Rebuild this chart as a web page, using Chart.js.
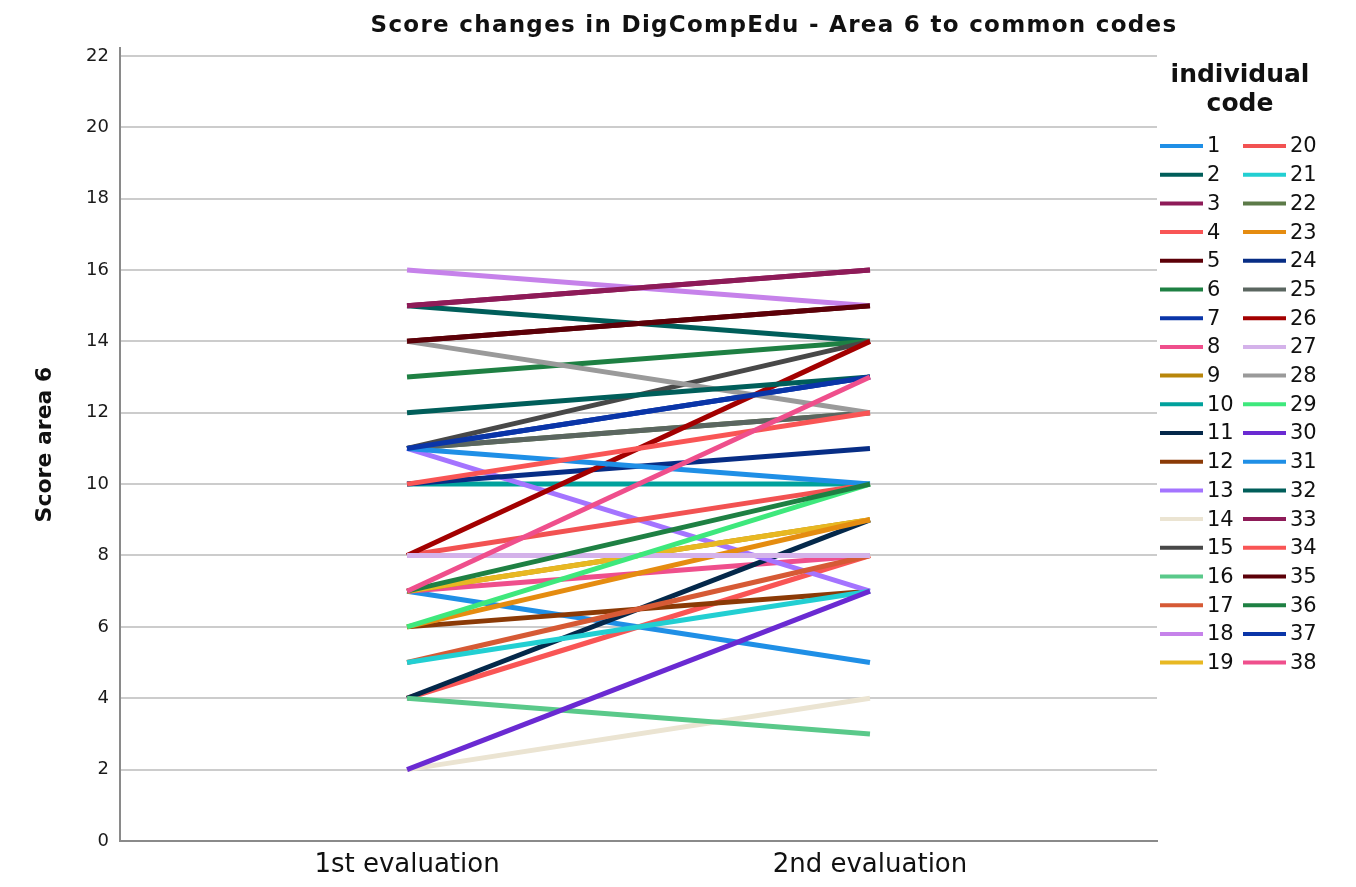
<!DOCTYPE html>
<html>
<head>
<meta charset="utf-8">
<script src="https://cdn.jsdelivr.net/npm/chart.js@4"></script>
<style>
  html, body { margin: 0; padding: 0; background: #fff; }
  #wrap { width: 1356px; height: 887px; }
</style>
</head>
<body>
<div id="wrap"><canvas id="chart"></canvas></div>
<script>
const codes = Array.from({ length: 38 }, (_, i) => String(i + 1))
const evaluations = ['1st evaluation', '2nd evaluation']
const firstEval = [7, 15, 15, 4, 14, 13, 11, 7, 7, 10, 4, 6, 11, 2, 11, 4, 5, 16, 7, 8,
  5, 11, 6, 10, 11, 8, 8, 14, 6, 2, 11, 12, 15, 10, 14, 7, 11, 7]
const secondEval = [5, 14, 16, 8, 15, 14, 13, 8, 9, 10, 9, 7, 7, 4, 14, 3, 8, 15, 9, 10,
  7, 12, 9, 11, 12, 14, 8, 12, 10, 7, 10, 13, 16, 12, 15, 10, 13, 13]
const yTicks = [0, 2, 4, 6, 8, 10, 12, 14, 16, 18, 20, 22]

const palette = [
  '#1f8fe6', '#005e5a', '#8e1b58', '#f95555', '#5c0008', '#1e8043', '#0a35a8', '#ef4f8c',
  '#b8860b', '#00a19c', '#04284a', '#8b3a06', '#a474ff', '#ebe4d2', '#484848', '#5ac98a',
  '#d65a35', '#c682ea', '#e8b822', '#f25252', '#22cfd2', '#5c7a48', '#e58c10', '#072d85',
  '#5b6660', '#a30000', '#d4b2ea', '#9a9a9a', '#3ee87c', '#6a2ad2', '#1f8fe6', '#005e5a',
  '#8e1b58', '#f95555', '#5c0008', '#1e8043', '#0a35a8', '#ef4f8c'
]

const datasets = codes.map((code, i) => ({
  label: code,
  data: [{ x: 0, y: firstEval[i] }, { x: 1, y: secondEval[i] }],
  borderColor: palette[i],
  backgroundColor: palette[i],
  borderWidth: 5,
  pointRadius: 0,
  order: codes.length - i
}))

const FONT = "'DejaVu Sans', sans-serif"

// title + two-column legend, drawn on the canvas
const extras = {
  id: 'extras',
  afterDraw(chart) {
    const ctx = chart.ctx
    ctx.save()
    ctx.fillStyle = '#111'
    ctx.textBaseline = 'middle'
    ctx.textAlign = 'center'
    ctx.font = 'bold 23px ' + FONT
    ctx.letterSpacing = '1.3px'
    ctx.fillText('Score changes in DigCompEdu - Area 6 to common codes', 774, 26)
    ctx.letterSpacing = '0px'

    ctx.font = 'bold 25px ' + FONT
    ctx.fillText('individual', 1240, 75)
    ctx.fillText('code', 1240, 104)

    ctx.font = '21px ' + FONT
    ctx.textAlign = 'left'
    chart.data.datasets.forEach((ds, i) => {
      const col = i < 19 ? 0 : 1
      const row = i % 19
      const x = col === 0 ? 1160 : 1243
      const y = 146 + row * 28.7
      ctx.strokeStyle = ds.borderColor
      ctx.lineWidth = 4
      ctx.beginPath()
      ctx.moveTo(x, y)
      ctx.lineTo(x + 43, y)
      ctx.stroke()
      ctx.fillStyle = '#111'
      ctx.fillText(ds.label, x + 47, y + 1)
    })
    ctx.restore()
  }
}

new Chart(document.getElementById('chart'), {
  type: 'line',
  data: { datasets: datasets },
  options: {
    responsive: true,
    maintainAspectRatio: false,
    animation: false,
    layout: { padding: { top: 48, right: 199, left: 10, bottom: 0 } },
    plugins: {
      legend: { display: false },
      tooltip: { enabled: false }
    },
    scales: {
      x: {
        type: 'linear',
        min: -0.62,
        max: 1.62,
        afterBuildTicks: (scale) => { scale.ticks = [{ value: 0 }, { value: 1 }] },
        afterFit: (scale) => { scale.height = 46 },
        grid: { display: false, drawTicks: false },
        border: { display: true, color: '#8a8a8a', width: 2 },
        ticks: {
          padding: 9,
          color: '#111',
          font: { family: FONT, size: 26 },
          callback: (v) => evaluations[v]
        }
      },
      y: {
        min: 0,
        max: 22.22,
        afterBuildTicks: (scale) => { scale.ticks = yTicks.map(v => ({ value: v })) },
        afterFit: (scale) => { scale.width = 110 },
        grid: { color: '#cccccc', lineWidth: 2, drawTicks: false },
        border: { display: true, color: '#8a8a8a', width: 2 },
        ticks: {
          padding: 11,
          color: '#1a1a1a',
          font: { family: FONT, size: 18 }
        },
        title: {
          display: true,
          text: 'Score area 6',
          color: '#111',
          font: { family: FONT, size: 22, weight: 'bold' },
          padding: { top: 22, bottom: 0 }
        }
      }
    }
  },
  plugins: [extras]
})
</script>
</body>
</html>
